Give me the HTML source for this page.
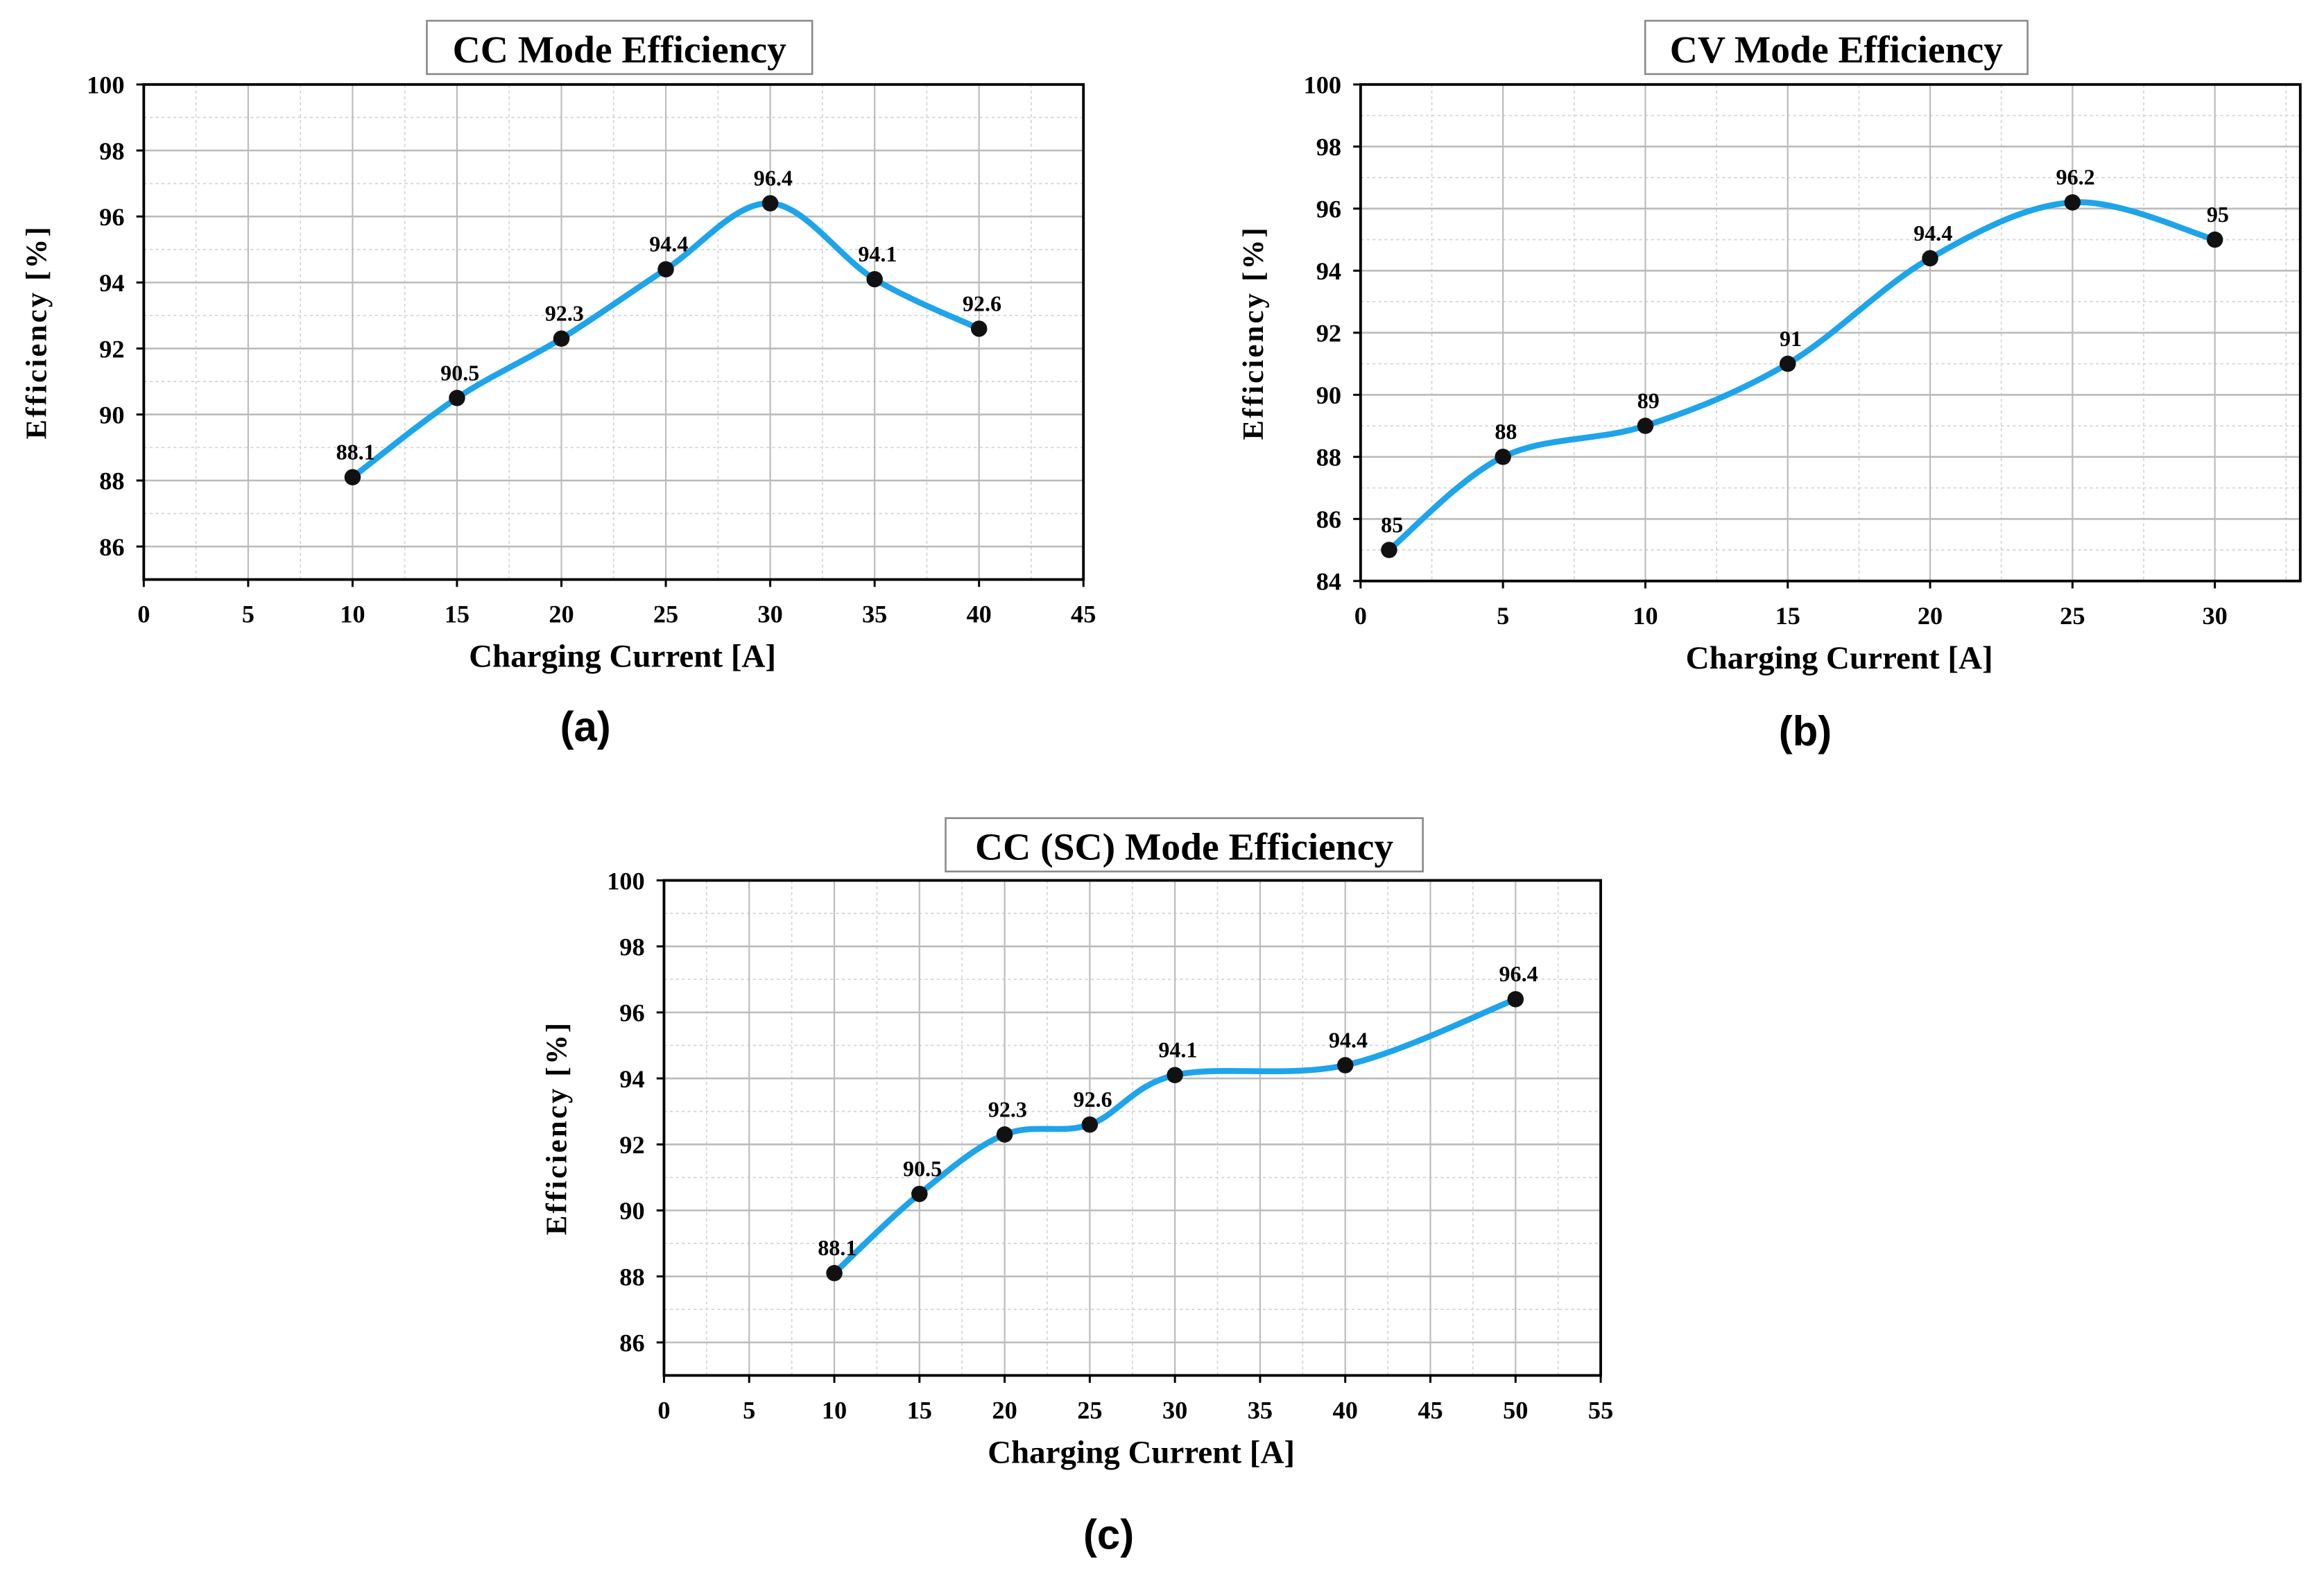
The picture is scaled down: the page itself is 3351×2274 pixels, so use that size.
<!DOCTYPE html>
<html><head><meta charset="utf-8"><style>
html,body{margin:0;padding:0;background:#fff;}
svg{display:block;}
</style></head><body>
<svg id="fig" width="3351" height="2274" viewBox="0 0 1568 1064" preserveAspectRatio="none" xmlns="http://www.w3.org/2000/svg"></svg>
<script>
const catsA=[10,15,20,25,30,35,40];
const valsA=[88.1,90.5,92.3,94.4,96.4,94.1,92.6];
const catsB=[1,5,10,15,20,25,30];
const valsB=[85,88,89,91,94.4,96.2,95];
const catsC=[10,15,20,25,30,40,50];
const valsC=[88.1,90.5,92.3,92.6,94.1,94.4,96.4];
const xTicksA=[0,5,10,15,20,25,30,35,40,45];
const xTicksB=[0,5,10,15,20,25,30];
const xTicksC=[0,5,10,15,20,25,30,35,40,45,50,55];
const yTicksA=[86,88,90,92,94,96,98,100];
const yTicksB=[84,86,88,90,92,94,96,98,100];
const yTicksC=[86,88,90,92,94,96,98,100];

const NS="http://www.w3.org/2000/svg";
const svg=document.getElementById('fig');
function mk(tag,attrs,parent){const e=document.createElementNS(NS,tag);for(const k in attrs)e.setAttribute(k,attrs[k]);(parent||svg).appendChild(e);return e;}
function fmt(v){return String(v);}

function chart(cfg,cats,vals,xt,yt){
  const g=mk('g',{});
  
  
  const {L,R,T,B,x0,x1,y0,y1}=cfg;
  const X=v=>L+(v-x0)/(x1-x0)*(R-L);
  const Y=v=>B-(v-y0)/(y1-y0)*(B-T);
  mk('rect',{x:L,y:T,width:R-L,height:B-T,fill:'#fff'},g);
  for(let i=0;i<xt.length;i++){const m=xt[i]+2.5;if(m<x1){mk('line',{x1:X(m),x2:X(m),y1:T,y2:B,stroke:'#d4d4d4','stroke-width':0.8,'stroke-dasharray':'2,2'},g);}}
  for(let i=0;i<yt.length;i++){const m=yt[i]+1;if(m<y1){mk('line',{x1:L,x2:R,y1:Y(m),y2:Y(m),stroke:'#d4d4d4','stroke-width':0.8,'stroke-dasharray':'2,2'},g);}
    const mm=yt[0]-1; if(i==0&&mm>y0) mk('line',{x1:L,x2:R,y1:Y(mm),y2:Y(mm),stroke:'#d4d4d4','stroke-width':0.8,'stroke-dasharray':'2,2'},g);}
  xt.forEach(t=>{if(t>x0&&t<x1){const l=mk('line',{x1:X(t),x2:X(t),y1:T,y2:B,stroke:'#bbb','stroke-width':1},g);}});
  yt.forEach(t=>{if(t>y0&&t<y1){const l=mk('line',{x1:L,x2:R,y1:Y(t),y2:Y(t),stroke:'#bbb','stroke-width':1.2},g);}});
  const fr=mk('rect',{x:L,y:T,width:R-L,height:B-T,fill:'none',stroke:'#000','stroke-width':1.8},g);
  
  xt.forEach(t=>{mk('line',{x1:X(t),x2:X(t),y1:B,y2:B+5,stroke:'#000','stroke-width':1.4},g);
    const tx=mk('text',{x:X(t),y:B+29,'text-anchor':'middle','font-family':'Liberation Serif, serif','font-weight':'bold','font-size':17},g);tx.textContent=fmt(t);
    });
  yt.forEach(t=>{mk('line',{x1:L-5,x2:L,y1:Y(t),y2:Y(t),stroke:'#000','stroke-width':1.4},g);
    const tx=mk('text',{x:L-13,y:Y(t)+6,'text-anchor':'end','font-family':'Liberation Serif, serif','font-weight':'bold','font-size':17},g);tx.textContent=fmt(t);
    });
  const P=cats.map((c,i)=>[X(c),Y(vals[i])]);
  let d='M'+P[0][0]+','+P[0][1];
  for(let i=0;i<P.length-1;i++){const p0=P[Math.max(0,i-1)],p1=P[i],p2=P[i+1],p3=P[Math.min(P.length-1,i+2)];
    const c1=[p1[0]+(p2[0]-p0[0])/6,p1[1]+(p2[1]-p0[1])/6],c2=[p2[0]-(p3[0]-p1[0])/6,p2[1]-(p3[1]-p1[1])/6];
    d+=' C'+c1[0]+','+c1[1]+' '+c2[0]+','+c2[1]+' '+p2[0]+','+p2[1];}
  const path=mk('path',{d:d,fill:'none',stroke:'#1ea4ea','stroke-width':4,'stroke-linecap':'round'},g);
  
  P.forEach((p,i)=>{const c=mk('circle',{cx:p[0],cy:p[1],r:5.5,fill:'#111'},g);
    
    const t=mk('text',{x:p[0]+2,y:p[1]-12,'text-anchor':'middle','font-family':'Liberation Serif, serif','font-weight':'bold','font-size':15},g);t.textContent=fmt(vals[i]);
    });
  const xtl=mk('text',{x:(L+R)/2+6,y:B+59,'text-anchor':'middle','font-family':'Liberation Serif, serif','font-weight':'bold','font-size':22},g);xtl.textContent='Charging Current [A]';
  
  const ytl=mk('text',{x:0,y:0,transform:'translate('+(L-66)+','+((T+B)/2)+') rotate(-90)','text-anchor':'middle','font-family':'Liberation Serif, serif','font-weight':'bold','font-size':20,'letter-spacing':1.5},g);ytl.textContent='Efficiency [%]';
  
  const tb=mk('rect',{x:cfg.tx,y:cfg.ty,width:cfg.tw,height:36,fill:'#fff',stroke:'#888','stroke-width':1.2},g);
  
  const tt=mk('text',{x:cfg.tx+cfg.tw/2,y:cfg.ty+28,'text-anchor':'middle','font-family':'Liberation Serif, serif','font-weight':'bold','font-size':26},g);tt.textContent=cfg.title;
  
  const pl=mk('text',{x:cfg.px,y:cfg.py,'text-anchor':'middle','font-family':'Liberation Sans, sans-serif','font-weight':'bold','font-size':28},g);pl.textContent=cfg.panel;
  
}
chart({name:'cc-mode-chart',L:97,R:731,T:57,B:391,x0:0,x1:45,y0:85,y1:100,tx:288,ty:14,tw:260,title:'CC Mode Efficiency',panel:'(a)',px:395,py:500},catsA,valsA,xTicksA,yTicksA);
chart({name:'cv-mode-chart',L:918,R:1552,T:57,B:392,x0:0,x1:33,y0:84,y1:100,tx:1110,ty:14,tw:258,title:'CV Mode Efficiency',panel:'(b)',px:1218,py:503},catsB,valsB,xTicksB,yTicksB);
chart({name:'cc-sc-mode-chart',L:448,R:1080,T:594,B:928,x0:0,x1:55,y0:85,y1:100,tx:638,ty:552,tw:322,title:'CC (SC) Mode Efficiency',panel:'(c)',px:748,py:1045},catsC,valsC,xTicksC,yTicksC);
</script>
</body></html>
